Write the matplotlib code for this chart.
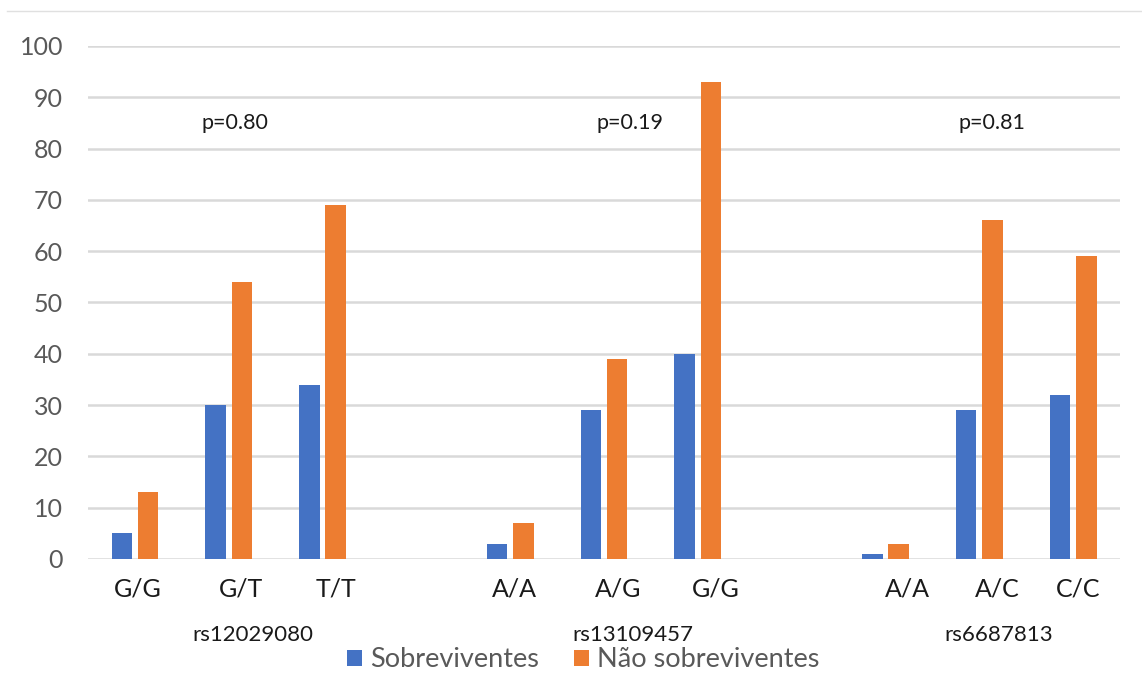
import numpy as np
import matplotlib.pyplot as plt
from matplotlib.lines import Line2D
from matplotlib.transforms import blended_transform_factory

plt.rcParams['font.family'] = ['Lato', 'DejaVu Sans']

# Dados
snps = ['rs12029080', 'rs13109457', 'rs6687813']
genotipos = [['G/G', 'G/T', 'T/T'],
             ['A/A', 'A/G', 'G/G'],
             ['A/A', 'A/C', 'C/C']]
sobreviventes = [[5, 30, 34],
                 [3, 29, 40],
                 [1, 29, 32]]
nao_sobreviventes = [[13, 54, 69],
                     [7, 39, 93],
                     [3, 66, 59]]
p_valores = ['p=0.80', 'p=0.19', 'p=0.81']

# Layout (deslocamentos das caixas de texto, em unidades de categoria)
desloc_genotipo = [[0.03, 0.13, 0.14],
                   [0.04, 0.15, 0.19],
                   [0.23, 0.19, 0.05]]
desloc_snp = [1.26, 1.31, 1.21]
desloc_p = [1.07, 1.28, 1.13]

azul = '#4472C4'
laranja = '#ED7D31'
cinza_grade = '#D9D9D9'
cinza_texto = '#595959'

fig = plt.figure(figsize=(11.42, 6.99), dpi=100)
ax = fig.add_axes([0.0771, 0.2003, 0.9036, 0.7339])

largura = 0.22
passo = 4  # 3 genótipos + 1 espaço vazio entre os grupos
for g in range(len(snps)):
    x = np.arange(3) + g * passo
    ax.bar(x - 0.14, sobreviventes[g], largura, color=azul, zorder=3,
           label='Sobreviventes' if g == 0 else None)
    ax.bar(x + 0.14, nao_sobreviventes[g], largura, color=laranja, zorder=3,
           label='Não sobreviventes' if g == 0 else None)

ax.set_xlim(-0.5, 10.5)
ax.set_ylim(0, 100)
ax.set_yticks(np.arange(0, 101, 10))
ax.set_xticks([])
ax.tick_params(axis='y', length=0, pad=18, labelsize=18, labelcolor=cinza_texto)
ax.grid(axis='y', color=cinza_grade, linewidth=1.8, zorder=0)
for s in ax.spines.values():
    s.set_visible(False)

# Rótulos dos genótipos, SNPs e p-valores
trans = blended_transform_factory(ax.transData, fig.transFigure)
for g in range(len(snps)):
    for i, gen in enumerate(genotipos[g]):
        ax.text(g * passo + i + desloc_genotipo[g][i], 0.157, gen, transform=trans,
                ha='center', va='center', fontsize=18, color='#1a1a1a')
    ax.text(g * passo + desloc_snp[g], 0.092, snps[g], transform=trans,
            ha='center', va='center', fontsize=16, color='#1a1a1a')
    ax.text(g * passo + desloc_p[g], 85, p_valores[g], ha='center', va='center',
            fontsize=15.5, color='#1a1a1a')

fig.legend(loc='center', bbox_to_anchor=(0.5105, 0.0558), ncol=2, frameon=False,
           fontsize=19.5, labelcolor=cinza_texto, handlelength=0.55, handleheight=0.55,
           handletextpad=0.3, columnspacing=1.3)

# linha fina no topo
fig.add_artist(Line2D([0.006, 1.0], [0.984, 0.984], color='#E0E0E0', linewidth=1.0))

fig.savefig('out.png', dpi=100, facecolor='white')
